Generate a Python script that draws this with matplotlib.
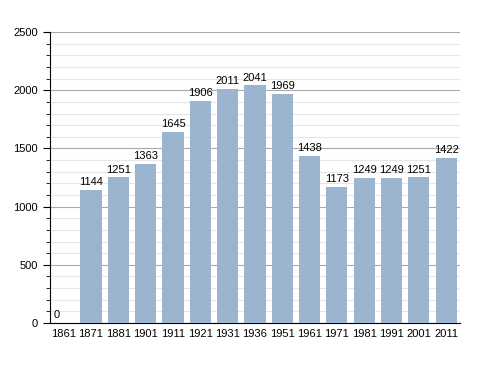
import matplotlib
matplotlib.use("Agg")
import matplotlib.pyplot as plt
from matplotlib.ticker import MultipleLocator

plt.rcParams["font.family"] = ["Liberation Sans", "DejaVu Sans"]

years = ["1861", "1871", "1881", "1901", "1911", "1921", "1931", "1936",
         "1951", "1961", "1971", "1981", "1991", "2001", "2011"]
population = [0, 1144, 1251, 1363, 1645, 1906, 2011, 2041,
              1969, 1438, 1173, 1249, 1249, 1251, 1422]

fig = plt.figure(figsize=(4.88, 3.73), dpi=100)
ax = fig.add_axes([0.1025, 0.134, 0.84, 0.78])

bar_w = 0.77
x = range(len(years))
ax.bar(x, population, width=bar_w, color="#9bb4cf", zorder=3)

for i, v in enumerate(population):
    if v == 0:
        # the empty first year gets its label at the bar's left edge
        ax.text(i - bar_w / 2, v + 25, str(v), ha="left", va="bottom", fontsize=8, zorder=4)
    else:
        ax.text(i, v + 25, str(v), ha="center", va="bottom", fontsize=8, zorder=4)

ax.set_xlim(-0.5, len(years) - 0.5)
ax.set_ylim(0, 2500)
ax.set_xticks(list(x))
ax.set_xticklabels(years, fontsize=8)
ax.tick_params(axis="x", length=0, pad=4)

ax.yaxis.set_major_locator(MultipleLocator(500))
ax.yaxis.set_minor_locator(MultipleLocator(100))
ax.tick_params(axis="y", which="major", length=5, labelsize=8, direction="out")
ax.tick_params(axis="y", which="minor", length=3, direction="out")

ax.grid(axis="y", which="major", color="#aaaaaa", linewidth=0.8, zorder=1)
ax.grid(axis="y", which="minor", color="#e6e6e6", linewidth=0.8, zorder=1)

for s in ["top", "right"]:
    ax.spines[s].set_visible(False)
ax.spines["left"].set_linewidth(0.8)
ax.spines["bottom"].set_linewidth(0.8)

fig.savefig("out.png", dpi=100)
